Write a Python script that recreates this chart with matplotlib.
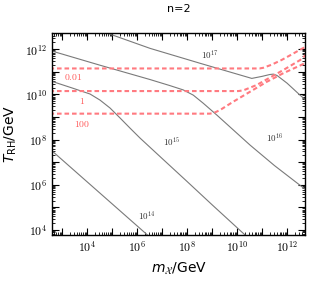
import numpy as np
import matplotlib
matplotlib.use("Agg")
import matplotlib.pyplot as plt
from matplotlib.ticker import FixedLocator, LogLocator, NullFormatter, FuncFormatter

plt.rcParams['mathtext.fontset'] = 'cm'

# values, as log10 exponents
# gray curves, labelled by 10^14 ... 10^17
c14_x = [2.5, 6.5]
c14_y = [7.6, 3.7]

c15_x = [2.5, 2.65, 3.45, 3.85, 4.12, 4.52, 4.92, 5.32, 5.72, 6.12, 7.0, 8.0, 9.0, 10.4]
c15_y = [10.61, 10.56, 10.27, 10.12, 10.02, 9.75, 9.40, 8.96, 8.51, 8.07, 7.17, 6.15, 5.12, 3.7]

c16_x = [2.5, 2.6, 4.5, 6.52, 7.32, 7.85, 8.25, 8.65, 9.19, 9.85, 10.52, 11.5, 12.59, 12.8]
c16_y = [11.95, 11.92, 11.3, 10.66, 10.39, 10.2, 9.97, 9.61, 9.09, 8.43, 7.76, 6.85, 5.92, 5.74]

c17_x = [4.7, 4.79, 6.52, 8.52, 10.59, 11.0, 11.3, 11.45, 11.6, 12.0, 12.52, 12.8]
c17_y = [12.75, 12.72, 12.04, 11.38, 10.71, 10.8, 10.88, 10.9, 10.84, 10.5, 9.97, 9.7]

# red dashed curves, labelled 0.01, 1, 100
r001_x = [2.5, 10.9, 11.05, 11.39, 11.79, 12.12, 12.52, 12.8]
r001_y = [11.15, 11.15, 11.18, 11.32, 11.53, 11.73, 11.98, 12.14]

r1_x = [2.5, 10.05, 10.25, 10.79, 11.19, 11.85, 12.52, 12.8]
r1_y = [10.15, 10.15, 10.18, 10.42, 10.67, 11.08, 11.52, 11.8]

r100_x = [2.5, 8.9, 9.05, 9.32, 9.85, 10.52, 11.19, 11.85, 12.52, 12.8]
r100_y = [9.15, 9.15, 9.17, 9.31, 9.68, 10.12, 10.56, 10.94, 11.28, 11.43]

gray_labels = [r'$10^{14}$', r'$10^{15}$', r'$10^{16}$', r'$10^{17}$']
gray_lab_x = [6.4, 7.4, 11.5, 8.9]
gray_lab_y = [4.6, 7.9, 8.05, 11.72]

red_labels = [r'$0.01$', r'$1$', r'$100$']
red_lab_x = [3.44, 3.8, 3.8]
red_lab_y = [10.77, 9.71, 8.69]

major_exp = [4, 5, 6, 7, 8, 9, 10, 11, 12]

fig = plt.figure(figsize=(3.12, 2.81), dpi=100)
ax = fig.add_axes([0.1667, 0.1637, 0.811, 0.7189])

gray = '#7a7a7a'
for xs, ys in [(c14_x, c14_y), (c15_x, c15_y), (c16_x, c16_y), (c17_x, c17_y)]:
    ax.plot(10.0 ** np.array(xs), 10.0 ** np.array(ys), color=gray, lw=0.8)

red = '#ff7a80'
for xs, ys in [(r001_x, r001_y), (r1_x, r1_y), (r100_x, r100_y)]:
    ax.plot(10.0 ** np.array(xs), 10.0 ** np.array(ys), color=red, lw=1.5,
            ls=(0, (2.2, 1.4)))

for s, x, y in zip(gray_labels, gray_lab_x, gray_lab_y):
    ax.text(10.0 ** x, 10.0 ** y, s, fontsize=6.5, color='#333333', ha='center', va='center')
for s, x, y in zip(red_labels, red_lab_x, red_lab_y):
    ax.text(10.0 ** x, 10.0 ** y, s, fontsize=7, color='#ff5a5a', ha='center', va='center')

ax.set_xscale('log')
ax.set_yscale('log')
ax.set_xlim(10 ** 2.6, 10 ** 12.72)
ax.set_ylim(10 ** 3.78, 10 ** 12.72)

def even_fmt(v, pos):
    e = int(round(np.log10(v)))
    return r'$10^{%d}$' % e if e % 2 == 0 else ''

for axis in (ax.xaxis, ax.yaxis):
    axis.set_major_locator(FixedLocator([10.0 ** e for e in major_exp]))
    axis.set_major_formatter(FuncFormatter(even_fmt))
    axis.set_minor_locator(LogLocator(base=10, subs=np.arange(2, 10), numticks=20))
    axis.set_minor_formatter(NullFormatter())
ax.xaxis.set_major_locator(FixedLocator([10.0 ** e for e in [3] + major_exp]))

ax.tick_params(which='both', direction='in', top=True, right=True, labelsize=8.5)
ax.tick_params(which='major', length=5, width=0.8)
ax.tick_params(which='minor', length=2.5, width=0.6)
for sp in ax.spines.values():
    sp.set_linewidth(1.0)

ax.set_xlabel(r'$m_{\mathcal{X}}$/GeV', fontsize=10, math_fontfamily='dejavusans')
ax.set_ylabel(r'$T_{\mathrm{RH}}$/GeV', fontsize=10, math_fontfamily='dejavusans')
ax.set_title('n=2', fontsize=8, pad=15)

fig.savefig('out.png', dpi=100)
